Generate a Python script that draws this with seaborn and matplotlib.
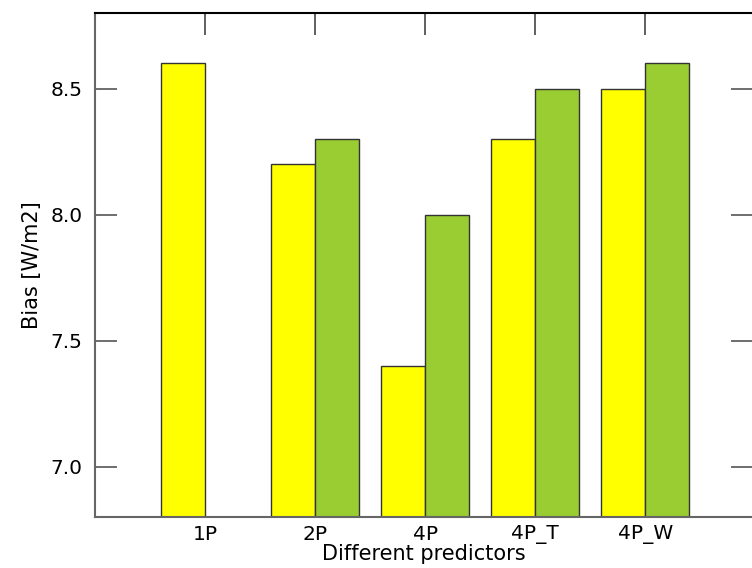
import numpy as np
import pandas as pd
import matplotlib
matplotlib.use("Agg")
import matplotlib.pyplot as plt
import seaborn as sns

# --- data ---
predictors = ["1P", "2P", "4P", "4P_T", "4P_W"]
bias_yellow = [8.6, 8.2, 7.4, 8.3, 8.5]
bias_green = [np.nan, 8.3, 8.0, 8.5, 8.6]
series_names = ["yellow", "green"]
series_colors = ["#ffff00", "#9acd32"]
y_ticks = [7.0, 7.5, 8.0, 8.5]

df = pd.DataFrame({
    "predictor": predictors * 2,
    "bias": bias_yellow + bias_green,
    "series": [series_names[0]] * len(predictors) + [series_names[1]] * len(predictors),
})

sns.set_style("white")
plt.rcParams["font.family"] = ["DejaVu Sans"]
plt.rcParams["text.color"] = "black"
plt.rcParams["axes.labelcolor"] = "black"
plt.rcParams["xtick.labelcolor"] = "black"
plt.rcParams["ytick.labelcolor"] = "black"

fig = plt.figure(figsize=(7.52, 5.68), dpi=100)
ax = fig.add_axes([95 / 752, 1 - 517 / 568, 658 / 752, 504 / 568])

sns.barplot(data=df, x="predictor", y="bias", hue="series", order=predictors,
            hue_order=series_names, palette=series_colors, width=0.8,
            errorbar=None, edgecolor="#333333", linewidth=1.0, saturation=1,
            legend=False, ax=ax)

ax.set_xlim(-1.0, 4.98)
ax.set_ylim(6.8, 8.8)
ax.set_yticks(y_ticks)
ax.set_yticklabels([f"{v:.1f}" for v in y_ticks])

ax.set_xlabel("Different predictors", fontsize=15, labelpad=0, color="black")
ax.set_ylabel("Bias [W/m2]", fontsize=15, labelpad=6, color="black")

ax.tick_params(axis="x", bottom=False, top=True, labelbottom=True, direction="in",
               length=16, width=1.2, color="#444444", labelsize=14.5, pad=6,
               labelcolor="black")
ax.tick_params(axis="y", left=True, right=True, labelleft=True, direction="in",
               length=16, width=1.2, color="#555555", labelsize=14.5, pad=9,
               labelcolor="black")

for side in ["left", "bottom"]:
    ax.spines[side].set_color("#666666")
    ax.spines[side].set_linewidth(1.5)
ax.spines["top"].set_color("black")
ax.spines["top"].set_linewidth(1.5)
ax.spines["right"].set_visible(True)
ax.spines["right"].set_color("#666666")

fig.savefig("out.png", dpi=100)
